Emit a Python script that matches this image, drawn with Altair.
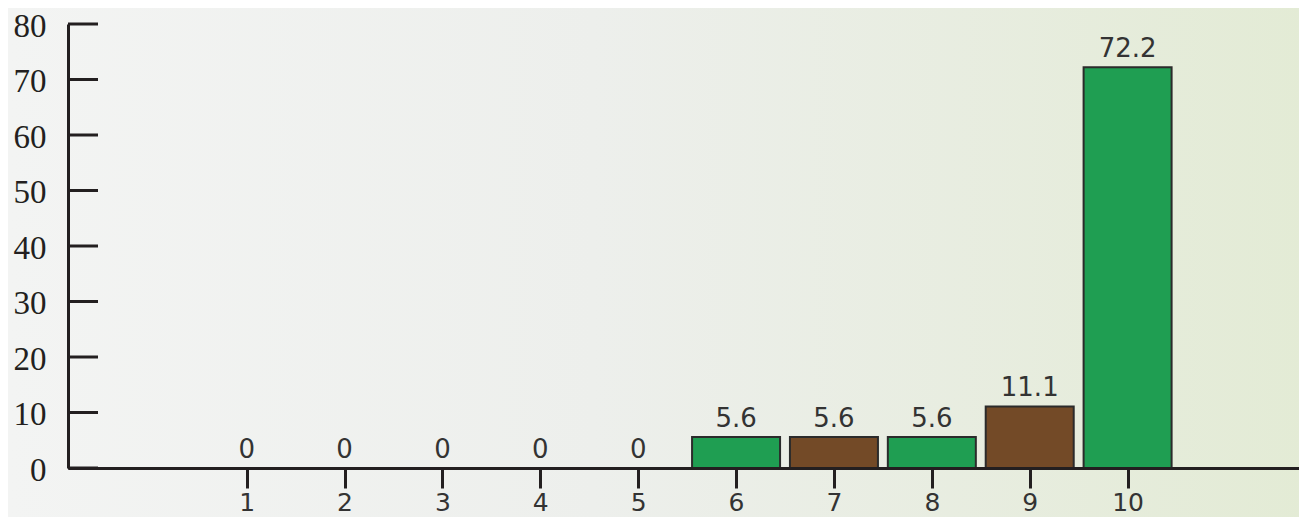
import altair as alt
import pandas as pd

categories = [1, 2, 3, 4, 5, 6, 7, 8, 9, 10]
values = [0, 0, 0, 0, 0, 5.6, 5.6, 5.6, 11.1, 72.2]
labels = ["0", "0", "0", "0", "0", "5.6", "5.6", "5.6", "11.1", "72.2"]
groups = ["brown", "green", "brown", "green", "brown", "green", "brown", "green", "brown", "green"]
y_ticks = [0, 10, 20, 30, 40, 50, 60, 70, 80]

df = pd.DataFrame({"cat": categories, "value": values, "label": labels, "group": groups})
ticks_df = pd.DataFrame({"t": y_ticks})

W, H = 1231, 444
INK = "#231f20"

xscale = alt.Scale(domain=[-0.774, 11.70], nice=False, zero=False)
yscale = alt.Scale(domain=[0, 80], nice=False)

bg = alt.Chart(alt.Data(values=[{}])).mark_rect(
    fill=alt.Gradient(
        gradient="linear",
        stops=[
            alt.GradientStop(color="#f3f4f3", offset=0),
            alt.GradientStop(color="#edefec", offset=0.45),
            alt.GradientStop(color="#e3ebd5", offset=1),
        ],
        x1=0, x2=1, y1=0, y2=0,
    )
).encode(x=alt.value(-60), x2=alt.value(W + 10), y=alt.value(-20), y2=alt.value(H + 80))

bars = alt.Chart(df).mark_bar(width=88, stroke="#2b2b2b", strokeWidth=2).encode(
    x=alt.X("cat:Q", scale=xscale, title=None,
            axis=alt.Axis(values=categories, format="d", grid=False, zindex=1,
                          domainColor=INK, domainWidth=3,
                          tickColor=INK, tickWidth=3, tickSize=20,
                          labelFont="DejaVu Sans", labelFontSize=25,
                          labelColor="#333333", labelPadding=2)),
    y=alt.Y("value:Q", scale=yscale, title=None,
            axis=alt.Axis(values=y_ticks, grid=False, ticks=False, zindex=1,
                          domainColor=INK, domainWidth=3,
                          labelFont="Liberation Serif", labelFontSize=33,
                          labelColor=INK, labelPadding=22, labelOffset=2)),
    color=alt.Color("group:N", scale=alt.Scale(domain=["green", "brown"],
                                               range=["#1f9e52", "#734a27"]),
                    legend=None),
)

text = alt.Chart(df).mark_text(
    dy=-10, baseline="alphabetic", fontSize=26, font="DejaVu Sans", color="#333333"
).encode(
    x=alt.X("cat:Q", scale=xscale),
    y=alt.Y("value:Q", scale=yscale),
    text="label:N",
)

yticks = alt.Chart(ticks_df).mark_rule(strokeWidth=3, color=INK).encode(
    y=alt.Y("t:Q", scale=yscale),
    x=alt.value(0),
    x2=alt.value(30),
)

chart = alt.layer(bg, bars, text, yticks).properties(
    width=W, height=H,
    autosize=alt.AutoSizeParams(type="none"),
    padding={"left": 60, "top": 16, "right": 0, "bottom": 49},
).configure(background="#eef0ed").configure_view(stroke=None)

chart.save("out.html", embed_options={"renderer": "svg", "actions": False})
